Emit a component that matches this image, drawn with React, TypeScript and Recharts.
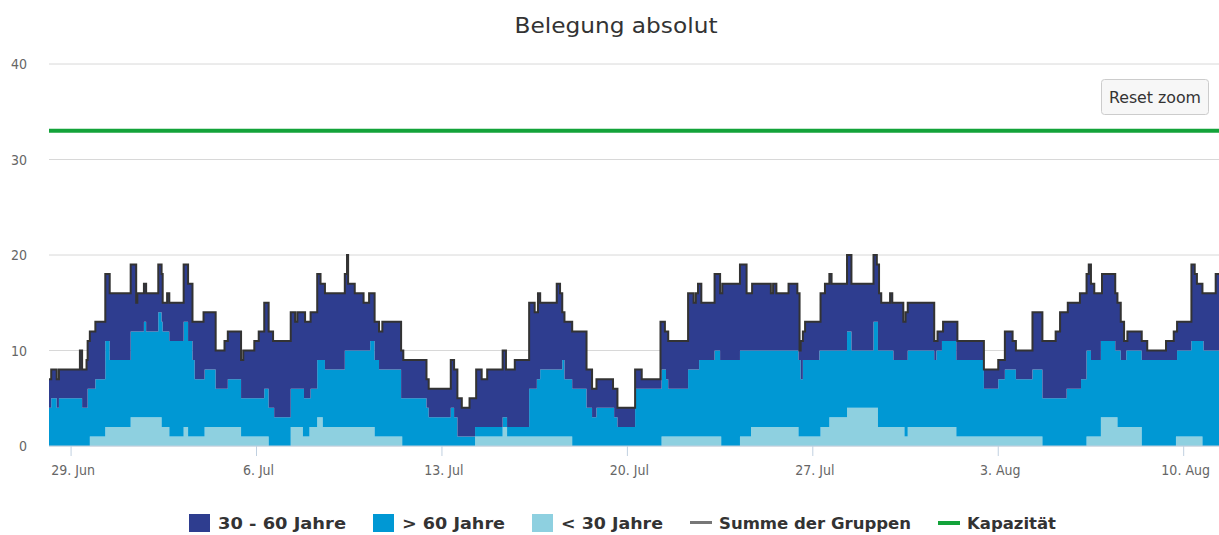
import React from 'react'
import {
  ComposedChart,
  Area,
  Line,
  XAxis,
  YAxis,
  CartesianGrid,
  ReferenceLine,
} from 'recharts'

const FONT = '"DejaVu Sans Condensed", "Liberation Sans Narrow", "Open Sans", sans-serif'

const COL_MID = '#2e3d8f' // 30 - 60 Jahre
const COL_GT60 = '#0098d4' // > 60 Jahre
const COL_LT30 = '#8ed0e0' // < 30 Jahre
const COL_SUM = '#333333'
const COL_CAP = '#13a33a'

// hours since 28 Jun 00:00 at which the occupancy changes
const hours = [
  4, 6, 11, 13, 32, 34, 38, 39, 41, 46, 55, 59, 78, 83, 84, 90, 92, 103, 106, 107,
  111, 113, 126, 130, 134, 136, 144, 145, 155, 163, 166, 178, 180, 190, 194, 199, 203, 207, 208, 223,
  227, 229, 234, 235, 236, 240, 241, 247, 250, 252, 254, 272, 274, 275, 281, 289, 294, 295, 299, 303,
  306, 323, 324, 325, 346, 348, 368, 371, 374, 378, 385, 390, 391, 396, 401, 415, 418, 419, 426, 439,
  444, 446, 447, 449, 464, 467, 469, 471, 478, 491, 496, 500, 515, 516, 519, 535, 541, 558, 559, 562,
  563, 565, 583, 588, 590, 592, 593, 595, 607, 612, 613, 614, 630, 636, 640, 641, 658, 660, 663, 674,
  682, 683, 684, 685, 687, 689, 702, 703, 707, 711, 713, 727, 731, 751, 754, 755, 756, 758, 766, 768,
  769, 778, 779, 780, 782, 806, 808, 809, 813, 814, 826, 827, 851, 864, 870, 877, 880, 895, 904, 916,
  920, 926, 927, 938, 939, 944, 946, 948, 951, 957, 958, 970, 972, 975, 978, 980, 981, 994, 999, 1016,
  1023, 1025, 1026, 1039, 1042, 1044, 1049, 1050, 1061, 1064,
]

const lt30 = [
  0, 0, 0, 0, 0, 0, 0, 0, 1, 1, 2, 2, 3, 3, 3, 3, 3, 3, 2, 2,
  2, 1, 2, 1, 1, 1, 1, 2, 2, 2, 2, 1, 1, 1, 1, 1, 0, 0, 0, 2,
  2, 2, 1, 1, 1, 2, 2, 3, 3, 2, 2, 2, 2, 2, 2, 2, 2, 2, 1, 1,
  1, 1, 0, 0, 0, 0, 0, 0, 0, 0, 0, 1, 1, 1, 1, 2, 2, 1, 1, 1,
  1, 1, 1, 1, 1, 1, 1, 1, 0, 0, 0, 0, 0, 0, 0, 0, 0, 0, 1, 1,
  1, 1, 1, 1, 1, 1, 1, 1, 1, 1, 0, 0, 1, 1, 2, 2, 2, 2, 2, 2,
  2, 1, 1, 1, 1, 1, 1, 2, 2, 3, 3, 4, 4, 4, 4, 2, 2, 2, 2, 2,
  2, 2, 1, 1, 2, 2, 2, 2, 2, 2, 1, 1, 1, 1, 1, 1, 1, 1, 0, 0,
  0, 0, 0, 0, 0, 1, 1, 1, 1, 3, 3, 3, 2, 2, 2, 2, 2, 0, 0, 0,
  0, 1, 1, 1, 1, 1, 0, 0, 0, 0,
]

const gt60 = [
  4, 5, 4, 5, 5, 4, 4, 6, 5, 6, 9, 7, 9, 9, 9, 10, 9, 11, 11, 10,
  10, 10, 11, 10, 8, 6, 6, 6, 4, 4, 5, 4, 4, 4, 4, 5, 4, 4, 3, 4,
  4, 4, 5, 4, 4, 3, 4, 6, 6, 7, 6, 8, 8, 8, 8, 8, 8, 9, 8, 7,
  7, 4, 5, 5, 4, 3, 4, 3, 1, 1, 1, 1, 1, 1, 1, 1, 1, 1, 1, 5,
  5, 6, 6, 7, 7, 7, 8, 6, 6, 4, 3, 4, 4, 3, 2, 6, 6, 6, 7, 7,
  6, 5, 7, 7, 7, 7, 8, 8, 9, 8, 9, 9, 9, 9, 8, 8, 8, 8, 8, 8,
  8, 8, 8, 6, 8, 8, 9, 8, 8, 7, 7, 8, 6, 9, 9, 8, 8, 8, 8, 8,
  7, 7, 8, 8, 8, 7, 8, 8, 9, 9, 8, 8, 5, 6, 7, 7, 6, 7, 5, 5,
  5, 6, 6, 6, 7, 9, 9, 8, 8, 8, 8, 7, 8, 7, 7, 8, 8, 9, 9, 9,
  9, 8, 9, 10, 10, 10, 11, 10, 10, 10,
]

const mid = [
  3, 3, 3, 3, 5, 4, 5, 5, 6, 6, 7, 7, 7, 3, 4, 4, 4, 5, 5, 3,
  4, 4, 6, 6, 4, 6, 7, 6, 4, 5, 5, 4, 5, 6, 7, 9, 8, 7, 8, 8,
  7, 8, 8, 9, 8, 8, 8, 9, 8, 8, 8, 8, 10, 7, 6, 5, 6, 5, 4, 4,
  5, 5, 5, 4, 3, 3, 5, 5, 4, 3, 4, 3, 6, 5, 6, 7, 5, 6, 7, 9,
  8, 7, 9, 7, 9, 8, 5, 6, 6, 4, 3, 3, 2, 3, 2, 2, 1, 7, 5, 4,
  5, 5, 8, 7, 8, 9, 8, 6, 8, 7, 7, 8, 9, 6, 6, 7, 6, 7, 6, 7,
  6, 7, 1, 4, 3, 4, 3, 6, 7, 8, 7, 8, 7, 7, 6, 9, 6, 5, 6, 5,
  6, 4, 4, 5, 5, 2, 1, 2, 1, 2, 4, 2, 2, 2, 4, 3, 3, 6, 6, 7,
  9, 8, 9, 10, 9, 8, 9, 8, 7, 5, 7, 6, 5, 4, 2, 1, 2, 2, 1, 2,
  3, 3, 3, 8, 7, 6, 5, 6, 8, 8,
]

const KAPAZITAET = 33

const xTicks = [24, 192, 360, 528, 696, 864, 1032]
const xTickLabels = ['29. Jun', '6. Jul', '13. Jul', '20. Jul', '27. Jul', '3. Aug', '10. Aug']
const yTicks = [0, 10, 20, 30, 40]

const data = hours.map((h, i) => ({
  h,
  lt30: lt30[i],
  gt60: gt60[i],
  mid: mid[i],
  summe: lt30[i] + gt60[i] + mid[i],
}))

const legendItems = [
  { name: '30 - 60 Jahre', color: COL_MID, kind: 'box', x: 189, w: 128 },
  { name: '> 60 Jahre', color: COL_GT60, kind: 'box', x: 373, w: 103 },
  { name: '< 30 Jahre', color: COL_LT30, kind: 'box', x: 532, w: 102 },
  { name: 'Summe der Gruppen', color: '#777777', kind: 'line', x: 690, w: 192 },
  { name: 'Kapazität', color: COL_CAP, kind: 'line', x: 938, w: 89 },
]

function XTick(props: any) {
  const { x, y, payload } = props
  const idx = xTicks.indexOf(payload.value)
  return (
    <text x={x + 2} y={y + 17} textAnchor="middle" fill="#666666" fontSize={14} fontFamily={FONT}>
      {idx >= 0 ? xTickLabels[idx] : ''}
    </text>
  )
}

function YTick(props: any) {
  const { y, payload } = props
  return (
    <text x={27} y={y + 5} textAnchor="end" fill="#666666" fontSize={14} fontFamily={FONT}>
      {payload.value}
    </text>
  )
}

export default function App() {
  return (
    <div style={{ position: 'absolute', left: 0, top: 0, width: 1219, height: 535, background: '#fff' }}>
      <ComposedChart
        width={1219}
        height={535}
        data={data}
        margin={{ top: 64, right: 0, bottom: 0, left: 0 }}
      >
        <CartesianGrid stroke="#d8d8d8" vertical={false} />
        <XAxis
          dataKey="h"
          type="number"
          domain={[4, 1064]}
          ticks={xTicks}
          allowDataOverflow
          height={89}
          tick={<XTick />}
          tickSize={10}
          tickLine={{ stroke: '#c0d0e0' }}
          axisLine={{ stroke: '#c0d0e0' }}
        />
        <YAxis
          domain={[0, 40]}
          ticks={yTicks}
          width={49}
          axisLine={false}
          tickLine={false}
          tick={<YTick />}
        />
        <Area
          type="stepAfter"
          dataKey="lt30"
          stackId="a"
          stroke="none"
          fill={COL_LT30}
          fillOpacity={1}
          isAnimationActive={false}
        />
        <Area
          type="stepAfter"
          dataKey="gt60"
          stackId="a"
          stroke="none"
          fill={COL_GT60}
          fillOpacity={1}
          isAnimationActive={false}
        />
        <Area
          type="stepAfter"
          dataKey="mid"
          stackId="a"
          stroke="none"
          fill={COL_MID}
          fillOpacity={1}
          isAnimationActive={false}
        />
        <Line
          type="stepAfter"
          dataKey="summe"
          stroke={COL_SUM}
          strokeWidth={2}
          dot={false}
          isAnimationActive={false}
        />
        <ReferenceLine y={KAPAZITAET} stroke={COL_CAP} strokeWidth={4} />
      </ComposedChart>

      <svg
        width={1219}
        height={535}
        style={{ position: 'absolute', left: 0, top: 0, pointerEvents: 'none' }}
      >
        <text
          x={616}
          y={33}
          textAnchor="middle"
          fontSize={22}
          fill="#333333"
          fontFamily={FONT}
          textLength={203}
          lengthAdjust="spacingAndGlyphs"
        >
          Belegung absolut
        </text>

        <rect x={1101.5} y={79.5} width={107} height={35} rx={3} fill="#f7f7f7" stroke="#cccccc" />
        <text
          x={1155}
          y={103}
          textAnchor="middle"
          fontSize={16}
          fill="#333333"
          fontFamily={FONT}
          textLength={92}
          lengthAdjust="spacingAndGlyphs"
        >
          Reset zoom
        </text>

        {legendItems.map((it) => (
          <g key={it.name}>
            {it.kind === 'box' ? (
              <rect x={it.x} y={514} width={21} height={18} fill={it.color} />
            ) : (
              <rect x={it.x} y={521} width={22} height={it.color === COL_CAP ? 4 : 3} fill={it.color} />
            )}
            <text
              x={it.x + 29}
              y={529}
              fontSize={16}
              fontWeight="bold"
              fill="#333333"
              fontFamily={FONT}
              textLength={it.w}
              lengthAdjust="spacingAndGlyphs"
            >
              {it.name}
            </text>
          </g>
        ))}
      </svg>
    </div>
  )
}
